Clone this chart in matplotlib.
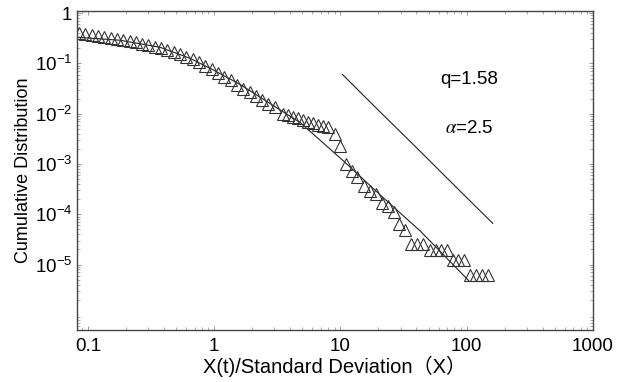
import matplotlib
matplotlib.use("Agg")
import matplotlib.pyplot as plt
from matplotlib.ticker import LogLocator, NullFormatter
import numpy as np

plt.rcParams['font.family'] = ['Liberation Sans', 'Noto Sans CJK SC', 'DejaVu Sans']
plt.rcParams['mathtext.fontset'] = 'stix'

obs_logx = [-1.07, -1.02, -0.97, -0.92, -0.87, -0.82, -0.77, -0.72, -0.67, -0.62,
            -0.57, -0.52, -0.47, -0.42, -0.37, -0.32, -0.27, -0.22, -0.17, -0.12,
            -0.07, -0.02, 0.03, 0.08, 0.13, 0.18, 0.23, 0.28, 0.33, 0.38,
            0.43, 0.48,
            0.548, 0.587, 0.627, 0.667, 0.706, 0.746, 0.786, 0.825, 0.865, 0.905,
            0.960, 1.000, 1.048, 1.095, 1.135, 1.190, 1.238, 1.278, 1.333, 1.373,
            1.421, 1.460, 1.508, 1.556, 1.603, 1.651, 1.706, 1.754, 1.794, 1.841,
            1.889, 1.929, 1.976, 2.024, 2.071, 2.119, 2.167]
obs_logy = [-0.40, -0.42, -0.44, -0.46, -0.48, -0.49, -0.51, -0.53, -0.56, -0.58,
            -0.61, -0.64, -0.67, -0.70, -0.74, -0.78, -0.82, -0.87, -0.92, -0.97,
            -1.06, -1.12, -1.20, -1.27, -1.34, -1.42, -1.50, -1.57, -1.64, -1.72,
            -1.80, -1.87,
            -2.00, -2.03, -2.06, -2.09, -2.12, -2.16, -2.19, -2.22, -2.24, -2.26,
            -2.40, -2.64, -3.00, -3.14, -3.26, -3.44, -3.54, -3.60, -3.78, -3.84,
            -3.96, -4.20, -4.32, -4.60, -4.60, -4.60, -4.72, -4.72, -4.72, -4.72,
            -4.90, -4.90, -4.90, -5.20, -5.20, -5.20, -5.20]

# q-distribution fit curve
fit_logx = [-1.087, -0.746, -0.429, -0.19, 0.0, 0.206, 0.444, 0.683, 1.024, 1.317, 1.635, 2.016]
fit_logy = [-0.48, -0.54, -0.68, -0.90, -1.14, -1.42, -1.80, -2.18, -2.94, -3.62, -4.34, -5.32]

# power-law guide line (alpha = 2.5)
pl_logx = [1.016, 1.30, 1.60, 1.90, 2.206]
pl_logy = [-1.22, -1.93, -2.67, -3.42, -4.18]

xticks = [0.1, 1, 10, 100, 1000]
xticklabels = ['0.1', '1', '10', '100', '1000']
yticks = [1, 1e-1, 1e-2, 1e-3, 1e-4, 1e-5]
yticklabels = ['1', r'$\mathregular{10^{-1}}$', r'$\mathregular{10^{-2}}$',
               r'$\mathregular{10^{-3}}$', r'$\mathregular{10^{-4}}$', r'$\mathregular{10^{-5}}$']

fig = plt.figure(figsize=(6.33, 3.82), dpi=100)
ax = fig.add_axes([0.1216, 0.1361, 0.8152, 0.8351])

ax.plot(10 ** np.array(fit_logx), 10 ** np.array(fit_logy), color='#222222', lw=0.8)
ax.plot(10 ** np.array(pl_logx), 10 ** np.array(pl_logy), color='#222222', lw=0.8)
ax.plot(10 ** np.array(obs_logx), 10 ** np.array(obs_logy), linestyle='none', marker='^',
        markersize=8, markerfacecolor='none', markeredgecolor='#333333', markeredgewidth=0.8)

ax.set_xscale('log')
ax.set_yscale('log')
ax.set_xlim(0.082, 1000)
ax.set_ylim(5e-7, 1.1)

ax.set_xticks(xticks)
ax.set_xticklabels(xticklabels)
ax.set_yticks(yticks)
ax.set_yticklabels(yticklabels)
ax.xaxis.set_minor_locator(LogLocator(base=10, subs=np.arange(2, 10)))
ax.yaxis.set_minor_locator(LogLocator(base=10, subs=np.arange(2, 10)))
ax.xaxis.set_minor_formatter(NullFormatter())
ax.yaxis.set_minor_formatter(NullFormatter())
ax.tick_params(which='both', direction='in', top=True, right=True, colors='#888888',
               labelcolor='black', labelsize=13.5)
ax.tick_params(which='major', length=3, width=0.6)
ax.tick_params(which='minor', length=2, width=0.5)
ax.tick_params(axis='x', pad=6)

for s in ax.spines.values():
    s.set_color('#444444')
    s.set_linewidth(1.0)

ax.set_xlabel('X(t)/Standard Deviation（X）', fontsize=14.5, labelpad=0)
ax.set_ylabel('Cumulative Distribution', fontsize=13, labelpad=2)

ax.text(104, 10 ** (-(79 - 13) / 50.2), 'q=1.58', fontsize=13.5, ha='center', va='center')
ax.text(104, 10 ** (-(128 - 13) / 50.2), r'$\alpha$=2.5', fontsize=13.5, ha='center', va='center')

fig.savefig('out.png', dpi=100)
